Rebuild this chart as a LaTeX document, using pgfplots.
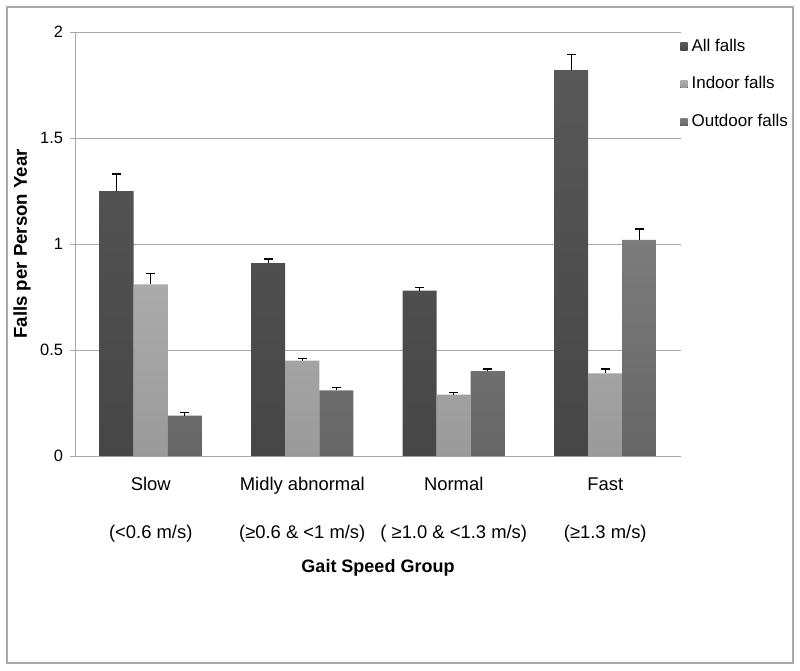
\documentclass[border=0pt]{standalone}
\usepackage{fontspec}
\setmainfont{Liberation Sans}
\usepackage{pgfplots}
\pgfplotsset{compat=1.18}

\definecolor{allt}{HTML}{585858}
\definecolor{allb}{HTML}{464646}
\definecolor{int}{HTML}{ABABAB}
\definecolor{inb}{HTML}{9A9A9A}
\definecolor{outt}{HTML}{7C7C7C}
\definecolor{outb}{HTML}{666666}
\definecolor{gridc}{HTML}{A8A8A8}

\begin{document}
\begin{tikzpicture}
% page bounds and outer frame (1 px of the reference = 0.5bp)
\path (-37.5bp,228bp) rectangle (362.5bp,-107.5bp);
\draw[gridc, line width=0.8bp] (-34bp,224.5bp) rectangle (359bp,-103.5bp);
\begin{axis}[
  at={(0,0)}, anchor=south west,
  scale only axis, width=303bp, height=212bp,
  ybar=0pt, bar width=17bp,
  xmin=-0.5, xmax=3.5, ymin=0, ymax=2,
  axis x line*=bottom, axis y line*=left,
  axis line style={gridc, -},
  xtick=data,
  xticklabels={{Slow\strut\\[13.5bp](<0.6 m/s)\strut},{Midly abnormal\strut\\[13.5bp](≥0.6 \& <1 m/s)\strut},{Normal\strut\\[13.5bp]( ≥1.0 \& <1.3 m/s)\strut},{Fast\strut\\[13.5bp](≥1.3 m/s)\strut}},
  x tick label style={align=center, font=\fontsize{9.2bp}{10.5bp}\selectfont, yshift=-4bp},
  x tick style={draw=none},
  ytick={0,0.5,1,1.5,2},
  y tick label style={font=\fontsize{8.2bp}{9bp}\selectfont},
  /pgf/number format/assume math mode=true,
  tick align=outside, major tick length=2.5bp,
  y tick style={gridc},
  ymajorgrids, grid style={gridc, line width=0.5bp},
  xlabel={\textbf{Gait Speed Group}},
  xlabel style={font=\fontsize{9bp}{10bp}\selectfont, at={(axis description cs:0.5,0)}, anchor=center, yshift=-56bp},
  ylabel={\textbf{Falls per Person Year}},
  ylabel style={font=\fontsize{9.3bp}{10bp}\selectfont, at={(axis description cs:0,0.5)}, anchor=center, yshift=26.5bp},
  legend style={at={(rel axis cs:1,1)}, anchor=north west, xshift=-0.5bp, yshift=-1.2bp,
    draw=none, fill=none, font=\fontsize{8.5bp}{9bp}\selectfont, row sep=7.3bp,
    cells={anchor=west}, inner sep=0pt},
  sq/.style={legend image code/.code={\fill[##1] (0bp,-1.8bp) rectangle (3.6bp,1.8bp);}},
  error bars/y dir=plus, error bars/y explicit,
  error bars/error bar style={black, line width=0.7bp},
  error bars/error mark options={black, rotate=90, mark size=2.2bp, line width=0.7bp},
]
\addplot[top color=allt, bottom color=allb, draw=none, sq] coordinates {(0,1.25) +- (0,0.08) (1,0.91) +- (0,0.02) (2,0.78) +- (0,0.015) (3,1.82) +- (0,0.075)};
\addplot[top color=int, bottom color=inb, draw=none, sq] coordinates {(0,0.81) +- (0,0.05) (1,0.45) +- (0,0.01) (2,0.29) +- (0,0.01) (3,0.39) +- (0,0.02)};
\addplot[top color=outt, bottom color=outb, draw=none, sq] coordinates {(0,0.19) +- (0,0.015) (1,0.31) +- (0,0.012) (2,0.40) +- (0,0.01) (3,1.02) +- (0,0.05)};
\legend{All falls, Indoor falls, Outdoor falls}
\end{axis}
\end{tikzpicture}
\end{document}
